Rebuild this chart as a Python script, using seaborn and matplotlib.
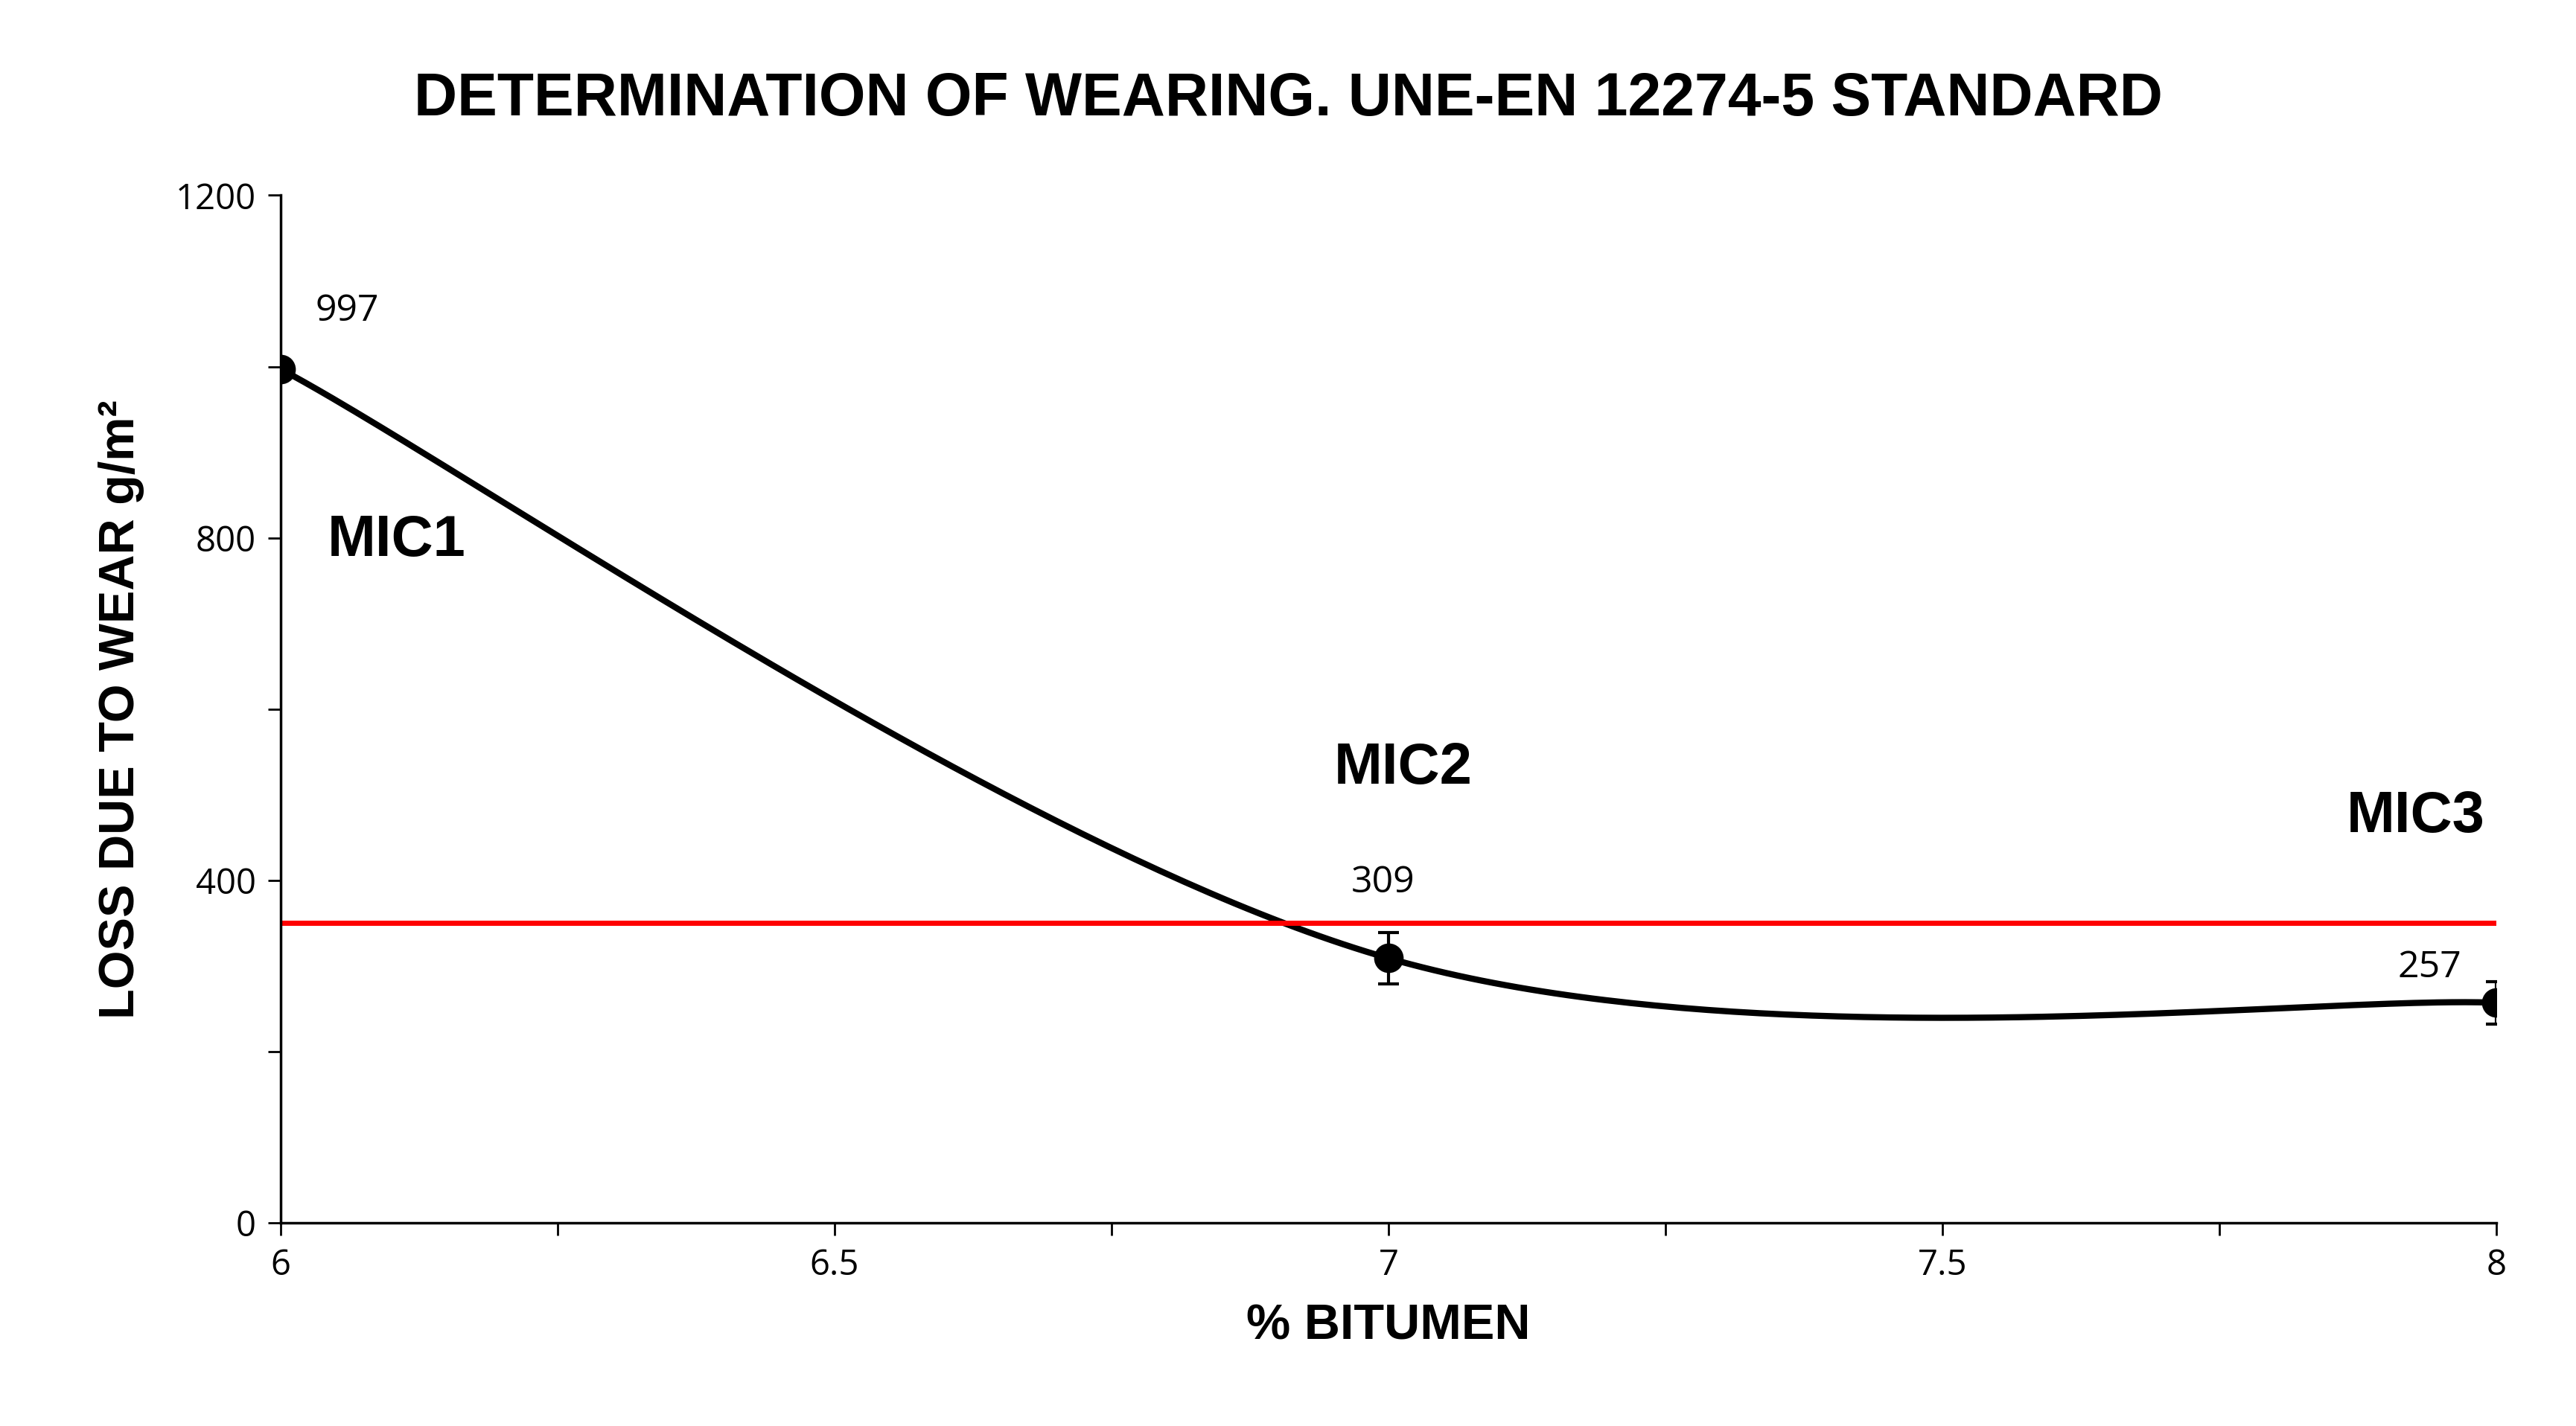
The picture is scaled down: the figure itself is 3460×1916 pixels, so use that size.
import numpy as np
import pandas as pd
import matplotlib
matplotlib.use("Agg")
import matplotlib.pyplot as plt
from matplotlib.ticker import MultipleLocator
import seaborn as sns

bitumen = [6, 7, 8]
loss = [997, 309, 257]
err = [0, 30, 25]
mix_names = ["MIC1", "MIC2", "MIC3"]
limit = 350

sns.set_theme(style="white", rc={"text.color": "black", "axes.labelcolor": "black",
                                 "xtick.color": "black", "ytick.color": "black"})
plt.rcParams['font.family'] = ['Liberation Sans', 'DejaVu Sans']

# Excel-style smoothed line (bezier through the points)
pts = np.array(list(zip(bitumen, loss)), dtype=float)
ext = np.vstack([pts[0], pts, pts[-1]])
curve = []
t = np.linspace(0, 1, 100)[:, None]
for i in range(len(pts) - 1):
    p0, p1, p2, p3 = ext[i], ext[i + 1], ext[i + 2], ext[i + 3]
    c1 = p1 + (p2 - p0) / 6
    c2 = p2 - (p3 - p1) / 6
    seg = (1 - t) ** 3 * p1 + 3 * (1 - t) ** 2 * t * c1 + 3 * (1 - t) * t ** 2 * c2 + t ** 3 * p2
    curve.append(seg)
curve = pd.DataFrame(np.vstack(curve), columns=["x", "y"])
df = pd.DataFrame({"x": bitumen, "y": loss})

fig, ax = plt.subplots(figsize=(34.6, 19.16), dpi=100)
fig.subplots_adjust(left=0.109, right=0.969, top=0.863, bottom=0.1425)

sns.lineplot(data=curve, x="x", y="y", color="black", lw=6, ax=ax, sort=False)
ax.axhline(limit, color="#ff0000", lw=5)
ax.errorbar(bitumen, loss, yerr=err, fmt="none", ecolor="black", elinewidth=3, capsize=10, capthick=3)
sns.scatterplot(data=df, x="x", y="y", color="black", s=700, ax=ax, zorder=5, edgecolor="black")

ax.set_xlim(6, 8)
ax.set_ylim(0, 1200)
ax.xaxis.set_major_locator(MultipleLocator(0.5))
ax.xaxis.set_minor_locator(MultipleLocator(0.25))
ax.yaxis.set_major_locator(MultipleLocator(400))
ax.yaxis.set_minor_locator(MultipleLocator(200))
ax.set_xticklabels([f"{v:g}" for v in ax.get_xticks()], family="Open Sans")
ax.set_yticklabels([f"{v:g}" for v in ax.get_yticks()], family="Open Sans")
ax.tick_params(axis="both", which="both", direction="out", length=12, width=2, colors="black", labelsize=34, pad=12)
ax.tick_params(axis="both", which="both", bottom=True, left=True)
sns.despine(ax=ax)
for s in ["left", "bottom"]:
    ax.spines[s].set_color("black")
    ax.spines[s].set_linewidth(2.5)

ax.set_xlabel("% BITUMEN", fontsize=48, fontweight="bold", labelpad=20)
ax.set_ylabel("LOSS DUE TO WEAR g/m²", fontsize=48, fontweight="bold", labelpad=30)
fig.suptitle("DETERMINATION OF WEARING. UNE-EN 12274-5 STANDARD", fontsize=58, fontweight="bold", x=0.5, y=0.95)

ax.text(6.042, 797, mix_names[0], fontsize=56, fontweight="bold", ha="left", va="center")
ax.text(7.013, 531, mix_names[1], fontsize=56, fontweight="bold", ha="center", va="center")
ax.text(7.99, 474, mix_names[2], fontsize=56, fontweight="bold", ha="right", va="center")
for x, y, lx, ly in zip(bitumen, loss, [6.06, 6.995, 7.94], [1065, 397, 298]):
    ax.text(lx, ly, str(y), fontsize=36, family="Open Sans", ha="center", va="center")

fig.savefig("out.png", dpi=100)
